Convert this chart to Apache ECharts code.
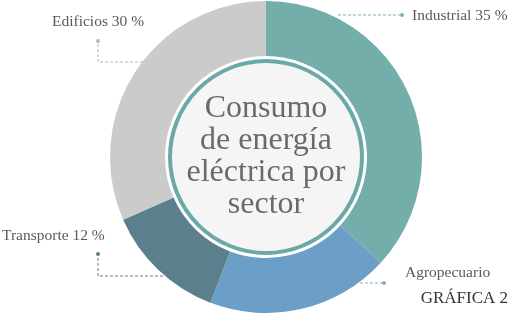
<!DOCTYPE html>
<html>
<head>
<meta charset="utf-8">
<script src="https://cdn.jsdelivr.net/npm/echarts@6/dist/echarts.min.js"></script>
<style>html,body{margin:0;padding:0;background:#fff}#c{width:510px;height:313px}</style>
</head>
<body>
<div id="c"></div>
<script>
const sectors = ['Industrial', 'Agropecuario', 'Transporte', 'Edificios'];
const values = [35, 18, 12, 30];
const showPct = [true, false, true, true];
const centerTitle = ['Consumo', 'de energía', 'eléctrica por', 'sector'];
const footer = 'GRÁFICA 2';

const colors = ['#73aeab', '#6c9fc8', '#5b7f8d', '#cbcbcb'];
const lineColors = ['#7fb3b0', '#8fa9bd', '#5b7f8d', '#b8b8b8'];
const CX = 266, CY = 157;

// label layout (text anchor + leader line) per sector
const layouts = [
  {x: 412, y: 16, pts: [[338, 15], [370, 15], [400, 15]], dot: [402, 15]},
  {x: 405, y: 273, pts: [[360, 283], [372, 283], [382, 283]], dot: [384, 283]},
  {x: 2, y: 236, pts: [[163, 276], [98, 276], [98, 256]], dot: [98, 254]},
  {x: 52, y: 22, pts: [[143, 62], [98, 62], [98, 43]], dot: [98, 41]}
];

const chart = echarts.init(document.getElementById('c'), null, {renderer: 'canvas'});
const serif = '"Liberation Serif", "DejaVu Serif", serif';

chart.setOption({
  animation: false,
  backgroundColor: '#fff',
  series: [
    {
      type: 'pie',
      center: [CX, CY],
      radius: [101, 156],
      startAngle: 90,
      clockwise: true,
      silent: true,
      itemStyle: {borderWidth: 0},
      emphasis: {disabled: true},
      data: sectors.map((s, i) => ({
        name: s,
        value: values[i],
        itemStyle: {color: colors[i]},
        labelLine: {lineStyle: {color: lineColors[i]}}
      })),
      label: {
        show: true,
        fontFamily: serif,
        fontSize: 15.5,
        color: '#5a5a5a',
        overflow: 'none',
        width: 200,
        formatter: p => showPct[p.dataIndex] ? p.name + ' ' + p.value + ' %' : p.name
      },
      labelLine: {show: true, lineStyle: {type: [3, 2], width: 1}},
      labelLayout: p => {
        const L = layouts[p.dataIndex];
        return {x: L.x, y: L.y, align: 'left', verticalAlign: 'middle', labelLinePoints: L.pts};
      }
    },
    {
      type: 'pie',
      center: [CX, CY],
      radius: [0, 96],
      silent: true,
      emphasis: {disabled: true},
      itemStyle: {color: '#f5f5f5', borderColor: '#6aa9a7', borderWidth: 4},
      label: {
        show: true,
        position: 'center',
        fontFamily: serif,
        fontSize: 32,
        lineHeight: 32,
        padding: [10, 0, 0, 0],
        color: '#6a6a6a',
        formatter: centerTitle.join('\n')
      },
      labelLine: {show: false},
      data: [{name: 'centro', value: 1}]
    }
  ],
  graphic: layouts.map((L, i) => ({
    type: 'circle',
    shape: {cx: L.dot[0], cy: L.dot[1], r: 2},
    style: {fill: lineColors[i]},
    silent: true
  })).concat([{
    type: 'text',
    right: 2,
    top: 290,
    style: {text: footer, font: '17px ' + serif, fill: '#333'}
  }])
});
</script>
</body>
</html>
